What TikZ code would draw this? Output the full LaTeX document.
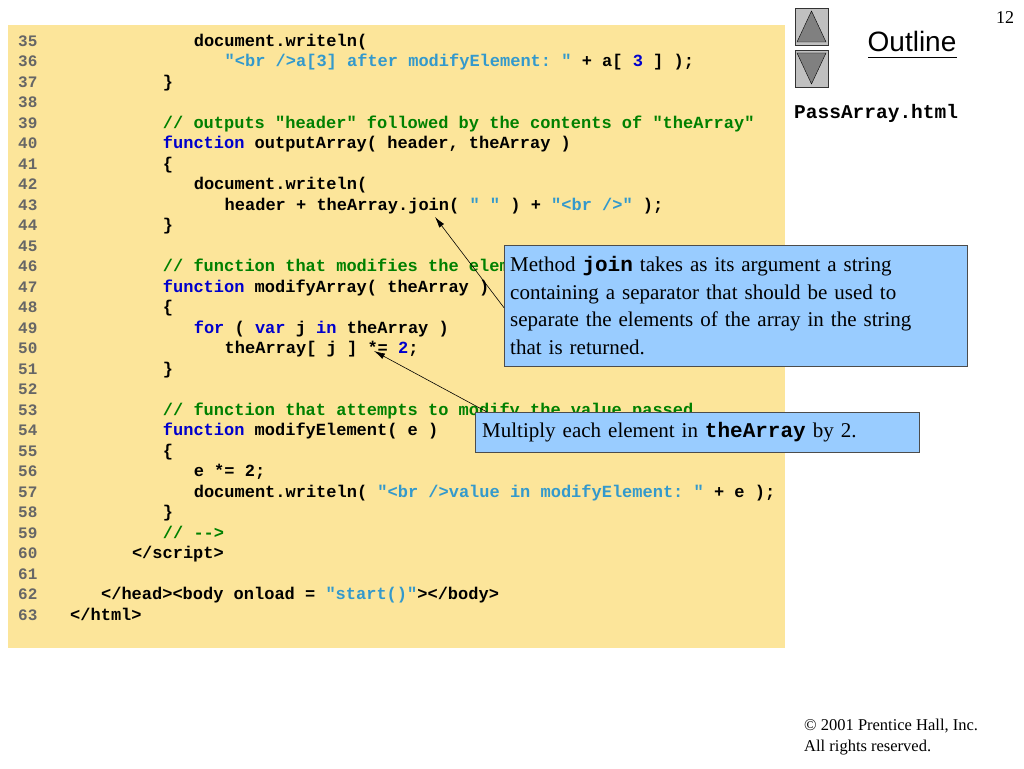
\documentclass[tikz,border=0pt]{standalone}
\usepackage{fontspec}
\usetikzlibrary{arrows.meta}
\setmainfont{Liberation Serif}
\setsansfont{Liberation Sans}
\setmonofont{Liberation Mono}
\definecolor{codebg}{HTML}{FCE59A}
\definecolor{kwc}{HTML}{0000CC}
\definecolor{cmc}{HTML}{008000}
\definecolor{stc}{HTML}{3399CC}
\definecolor{callbg}{HTML}{99CCFF}
\definecolor{btn}{HTML}{C0C0C0}
\definecolor{tri}{HTML}{808080}
\newcommand{\kw}[1]{\textcolor{kwc}{#1}}
\newcommand{\cm}[1]{\textcolor{cmc}{#1}}
\newcommand{\st}[1]{\textcolor{stc}{#1}}
\begin{document}
\begin{tikzpicture}[x=1pt,y=-1pt,
  code/.style={anchor=base west,inner sep=0,font=\fontsize{17}{20}\ttfamily\bfseries},
  lnum/.style={anchor=base west,inner sep=0,font=\fontsize{16}{20}\ttfamily\bfseries,text=black!60},
  callout/.style={draw=black!70,fill=callbg,anchor=north west,align=left,inner sep=0,
    font=\fontsize{21}{27.5}\selectfont},
  arr/.style={-{Latex[length=11pt,width=6pt]},semithick}]
\useasboundingbox (0,0) rectangle (1024,768);
\fill[codebg] (8,25) rectangle (785,648);
\def\cw{10.3}
\foreach \n/\ind/\t in {
 35/12/{document.writeln(},
 36/15/{\st{"<br />a[3] after modifyElement: "} + a[ \kw{3} ] );},
 37/9/{\}},
 38/0/{},
 39/9/{\cm{// outputs "header" followed by the contents of "theArray"}},
 40/9/{\kw{function} outputArray( header, theArray )},
 41/9/{\{},
 42/12/{document.writeln(},
 43/15/{header + theArray.join( \st{" "} ) + \st{"<br />"} );},
 44/9/{\}},
 45/0/{},
 46/9/{\cm{// function that modifies the elements of an array}},
 47/9/{\kw{function} modifyArray( theArray )},
 48/9/{\{},
 49/12/{\kw{for} ( \kw{var} j \kw{in} theArray )},
 50/15/{theArray[ j ] *= \kw{2};},
 51/9/{\}},
 52/0/{},
 53/9/{\cm{// function that attempts to modify the value passed}},
 54/9/{\kw{function} modifyElement( e )},
 55/9/{\{},
 56/12/{e *= 2;},
 57/12/{document.writeln( \st{"<br />value in modifyElement: "} + e );},
 58/9/{\}},
 59/9/{\cm{// -{}->}},
 60/6/{</script>},
 61/0/{},
 62/3/{</head><body onload = \st{"start()"}></body>},
 63/0/{</html>}}
{
  \node[lnum] (ln\n) at (18,{46+20.5*(\n-35)}) {\n};
  \node[code] (cl\n) at ({70+\cw*\ind},{46+20.5*(\n-35)}) {\t};
}
\coordinate (joinpt) at (435,217);
\coordinate (mulpt) at (374,351);
\node[callout,minimum width=463,minimum height=121,text width=455] (c1) at (504,245)
  {\hspace*{2pt}\parbox[t]{455pt}{\vspace*{0pt}\rule{0pt}{14pt}Method \textbf{\ttfamily join} takes as its argument a string\\containing a separator that should be used to\\separate the elements of the array in the string\\that is returned.}};
\node[callout,minimum width=444,minimum height=40,text width=436] (c2) at (475,412)
  {\hspace*{3pt}\parbox[t]{436pt}{\rule{0pt}{16pt}Multiply each element in \textbf{\ttfamily theArray} by 2.}};
\draw[arr] ([yshift=-2pt]c1.west) -- (joinpt);
\draw[arr] ([xshift=12pt]c2.north west) -- (mulpt);
% outline
\node[draw=black!80,fill=btn,minimum width=33,minimum height=37,inner sep=0] (up) at (811.5,26.5) {};
\node[draw=black!80,fill=btn,minimum width=33,minimum height=37,inner sep=0] (dn) at (811.5,68.5) {};
\fill[tri,draw=black] (797,42) -- (811.5,11) -- (826,42) -- cycle;
\fill[tri,draw=black] (797,53) -- (811.5,84) -- (826,53) -- cycle;
\node[inner sep=0,font=\fontsize{28}{30}\sffamily] (outl) at (912,41) {Outline};
\draw[thick] (868,57) -- (957,57);
\node[inner sep=0,font=\fontsize{18}{20}\selectfont] (pg) at (1005,18) {12};
\node[inner sep=0,anchor=west,font=\fontsize{19.5}{20}\ttfamily\bfseries] (fn) at (794,113) {PassArray.html};
\node[inner sep=0,anchor=north west,align=left,font=\fontsize{16.5}{21}\selectfont] (cp) at (804,719) {© 2001 Prentice Hall, Inc.\\All rights reserved.};
\end{tikzpicture}
\end{document}
